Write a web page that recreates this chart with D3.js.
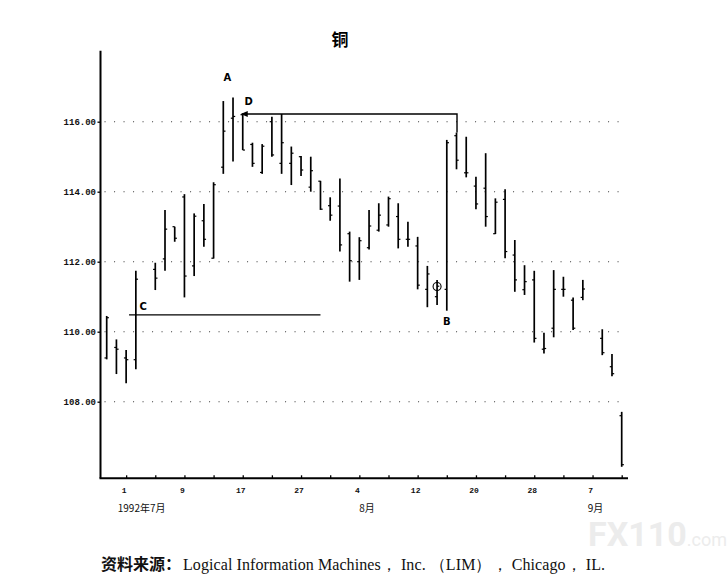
<!DOCTYPE html>
<html>
<head>
<meta charset="utf-8">
<script src="https://cdn.jsdelivr.net/npm/d3@7"></script>
<style>
  body { margin: 0; background: #fff; }
  svg { display: block; }
</style>
</head>
<body>
<svg width="728" height="582"></svg>
<script>
// trading-day slots, 29 Jun - 10 Sep 1992 (holidays left empty)
const days = ["6/29","6/30","7/1","7/2","7/3","7/6","7/7","7/8","7/9","7/10",
  "7/13","7/14","7/15","7/16","7/17","7/20","7/21","7/22","7/23","7/24",
  "7/27","7/28","7/29","7/30","7/31","8/3","8/4","8/5","8/6","8/7",
  "8/10","8/11","8/12","8/13","8/14","8/17","8/18","8/19","8/20","8/21",
  "8/24","8/25","8/26","8/27","8/28","8/31","9/1","9/2","9/3","9/4",
  "9/7","9/8","9/9","9/10"];
const highs = [110.45,109.78,109.48,111.74,null,111.97,113.48,113.0,113.93,113.38,
  113.65,114.27,116.59,116.69,116.24,115.4,115.36,116.14,116.22,115.29,
  115.02,115.0,114.31,113.84,114.38,112.86,112.7,113.48,113.67,113.86,
  113.67,113.14,112.71,111.88,111.48,115.48,115.69,115.57,114.43,115.1,
  113.81,114.07,112.62,111.9,111.74,109.97,111.76,111.57,110.98,111.48,
  null,110.07,109.36,107.71];
const lows = [109.21,108.79,108.53,108.93,null,111.19,111.74,112.57,110.98,111.59,
  112.43,112.09,114.51,114.86,115.19,114.71,114.51,115.0,114.51,114.19,
  114.45,114.0,113.48,113.17,112.29,111.43,111.48,112.35,112.86,113.0,
  112.38,112.43,111.21,110.7,110.76,110.6,114.64,114.41,113.5,113.0,
  112.79,112.1,111.14,111.05,109.69,109.38,109.84,111.0,110.05,110.9,
  null,109.33,108.73,106.14];
const opens = [109.25,109.55,109.25,109.2,null,111.78,112.08,113.0,113.85,111.88,
  113.17,112.1,114.7,116.1,116.2,115.35,114.55,116.0,114.81,114.81,
  115.0,114.13,114.3,113.6,113.59,112.8,112.0,112.4,112.9,113.05,
  113.29,112.64,112.45,111.21,111.0,111.21,115.6,114.54,114.16,114.1,
  112.8,113.78,112.19,111.2,111.48,109.5,110.1,111.21,110.9,110.98,
  null,109.81,109.0,107.6];
const closes = [110.4,109.5,109.2,111.5,null,111.53,112.93,112.67,111.59,113.3,
  112.64,114.2,115.73,116.15,115.19,114.81,115.3,115.05,115.4,115.1,
  114.62,114.6,113.5,113.33,112.48,112.03,112.6,113.02,113.33,113.8,
  112.64,112.64,111.33,111.65,111.3,115.4,114.9,114.54,113.65,113.29,
  113.7,112.29,111.48,111.43,109.81,109.52,111.21,111.21,110.1,111.22,
  null,109.4,108.8,106.2];

const yTicks = [108, 110, 112, 114, 116];
const dayTickLabels = {2: "1", 8: "9", 14: "17", 20: "27", 26: "4", 32: "12", 38: "20", 44: "28", 50: "7"};
const monthLabels = [{slot: 3.8, text: "1992年7月"}, {slot: 27, text: "8月"}, {slot: 50.5, text: "9月"}];

// annotations
const lineC = {from: 2.3, to: 22, level: 110.48};
const lineD = {from: 14, to: 36, level: 116.22};
const circleB = {slot: 34, value: 111.29};

const svg = d3.select("svg");

const x = d3.scaleLinear().domain([0, days.length - 1]).range([106.7, 621.7]);
const y = d3.scaleLinear().domain([108, 116]).range([401.7, 121.7]);

const axisLeft = 100.5, axisBottom = 478.3, axisRight = 628, axisTop = 50.7;

// title
svg.append("text")
  .attr("x", 340).attr("y", 46)
  .attr("text-anchor", "middle")
  .attr("font-family", "Noto Sans CJK SC")
  .attr("font-weight", "bold")
  .attr("font-size", 17)
  .text("铜");

// dotted grid lines
svg.append("g")
  .selectAll("line")
  .data(yTicks)
  .join("line")
  .attr("x1", axisLeft + 4).attr("x2", 625)
  .attr("y1", d => y(d)).attr("y2", d => y(d))
  .attr("stroke", "#444")
  .attr("stroke-width", 1.1)
  .attr("stroke-dasharray", "1.1,8.4");

// y axis
const yAxis = svg.append("g")
  .attr("transform", `translate(${axisLeft},0)`)
  .call(d3.axisLeft(y).tickValues(yTicks).tickFormat(d3.format(".2f")).tickSize(3));
yAxis.select(".domain").remove();
yAxis.selectAll("line").attr("stroke", "#000").attr("stroke-width", 1.3);
yAxis.selectAll("text")
  .attr("font-family", "Liberation Mono")
  .attr("font-weight", "bold")
  .attr("font-size", 9)
  .attr("fill", "#111")
  .attr("dx", 1.5);

// x axis ticks (every third slot)
const xTickSlots = d3.range(2, days.length, 3);
const xAxis = svg.append("g")
  .attr("transform", `translate(0,${axisBottom})`)
  .call(d3.axisTop(x).tickValues(xTickSlots).tickFormat(() => "").tickSize(3));
xAxis.select(".domain").remove();
xAxis.selectAll("line").attr("stroke", "#000").attr("stroke-width", 1.3);

// frame lines
svg.append("line")
  .attr("x1", axisLeft).attr("x2", axisLeft)
  .attr("y1", axisTop).attr("y2", axisBottom)
  .attr("stroke", "#000").attr("stroke-width", 2);
svg.append("line")
  .attr("x1", axisLeft - 1).attr("x2", axisRight)
  .attr("y1", axisBottom).attr("y2", axisBottom)
  .attr("stroke", "#000").attr("stroke-width", 2);

// day labels
svg.append("g")
  .selectAll("text")
  .data(Object.keys(dayTickLabels).map(Number))
  .join("text")
  .attr("x", d => x(d) - 2)
  .attr("y", 493)
  .attr("text-anchor", "middle")
  .attr("font-family", "Liberation Mono")
  .attr("font-weight", "bold")
  .attr("font-size", 8)
  .attr("fill", "#111")
  .text(d => dayTickLabels[d]);

svg.append("g")
  .selectAll("text")
  .data(monthLabels)
  .join("text")
  .attr("x", d => x(d.slot) - 2)
  .attr("y", 512)
  .attr("text-anchor", "middle")
  .attr("font-family", "Noto Sans CJK SC")
  .attr("font-size", 10)
  .attr("fill", "#111")
  .text(d => d.text);

// bars
const bars = d3.range(days.length).filter(i => highs[i] != null).map(i => ({
  i, h: highs[i], l: lows[i], o: opens[i], c: closes[i]
}));
const barG = svg.append("g").attr("stroke", "#000").attr("stroke-width", 1.7);
barG.selectAll("line.hl")
  .data(bars)
  .join("line")
  .attr("class", "hl")
  .attr("x1", d => x(d.i)).attr("x2", d => x(d.i))
  .attr("y1", d => y(d.h)).attr("y2", d => y(d.l));
barG.selectAll("line.op")
  .data(bars)
  .join("line")
  .attr("class", "op")
  .attr("stroke-width", 1.2)
  .attr("x1", d => x(d.i) - 2.2).attr("x2", d => x(d.i))
  .attr("y1", d => y(d.o)).attr("y2", d => y(d.o));
barG.selectAll("line.cl")
  .data(bars)
  .join("line")
  .attr("class", "cl")
  .attr("stroke-width", 1.2)
  .attr("x1", d => x(d.i)).attr("x2", d => x(d.i) + 2.2)
  .attr("y1", d => y(d.c)).attr("y2", d => y(d.c));

// line C
svg.append("line")
  .attr("x1", x(lineC.from)).attr("x2", x(lineC.to))
  .attr("y1", y(lineC.level)).attr("y2", y(lineC.level))
  .attr("stroke", "#000").attr("stroke-width", 1.4);

// line D with arrow head at the left
svg.append("path")
  .attr("d", `M${x(lineD.from)},${y(lineD.level)}H${x(lineD.to) + 0.5}V${y(highs[lineD.to])}`)
  .attr("fill", "none")
  .attr("stroke", "#000").attr("stroke-width", 1.4);
const ax = x(lineD.from) - 2, ay = y(lineD.level);
svg.append("path")
  .attr("d", `M${ax},${ay}L${ax + 7},${ay - 3}L${ax + 7},${ay + 3}Z`)
  .attr("fill", "#000");

// small circle near B
svg.append("circle")
  .attr("cx", x(circleB.slot)).attr("cy", y(circleB.value))
  .attr("r", 4)
  .attr("fill", "none")
  .attr("stroke", "#000").attr("stroke-width", 1.1);

// letters
const letters = [
  {t: "A", x: x(12) + 4, y: y(highs[12]) - 20},
  {t: "D", x: x(14) + 6, y: y(lineD.level) - 9},
  {t: "C", x: x(lineC.from) + 14, y: y(lineC.level) - 5},
  {t: "B", x: x(35), y: y(lows[35]) + 14}
];
svg.append("g")
  .selectAll("text")
  .data(letters)
  .join("text")
  .attr("x", d => d.x).attr("y", d => d.y)
  .attr("text-anchor", "middle")
  .attr("font-family", "DejaVu Sans")
  .attr("font-weight", "bold")
  .attr("font-size", 10)
  .text(d => d.t);

// watermark
const wm = svg.append("text")
  .attr("x", 588).attr("y", 546)
  .attr("font-family", "Roboto")
  .attr("font-weight", "bold")
  .attr("fill", "#ececec");
wm.append("tspan").attr("font-size", 34).text("FX110");
wm.append("tspan").attr("font-size", 18).attr("font-weight", "normal").text(".com");

// source line
svg.append("text")
  .attr("x", 101).attr("y", 570)
  .attr("font-family", "Noto Sans CJK SC")
  .attr("font-weight", "bold")
  .attr("font-size", 16)
  .attr("fill", "#111")
  .text("资料来源：");
svg.append("text")
  .attr("x", 183).attr("y", 570)
  .attr("font-family", "Liberation Serif")
  .attr("font-size", 16)
  .attr("fill", "#111")
  .attr("textLength", 422)
  .attr("lengthAdjust", "spacing")
  .text("Logical Information Machines， Inc. （LIM）， Chicago， IL.");
</script>
</body>
</html>
